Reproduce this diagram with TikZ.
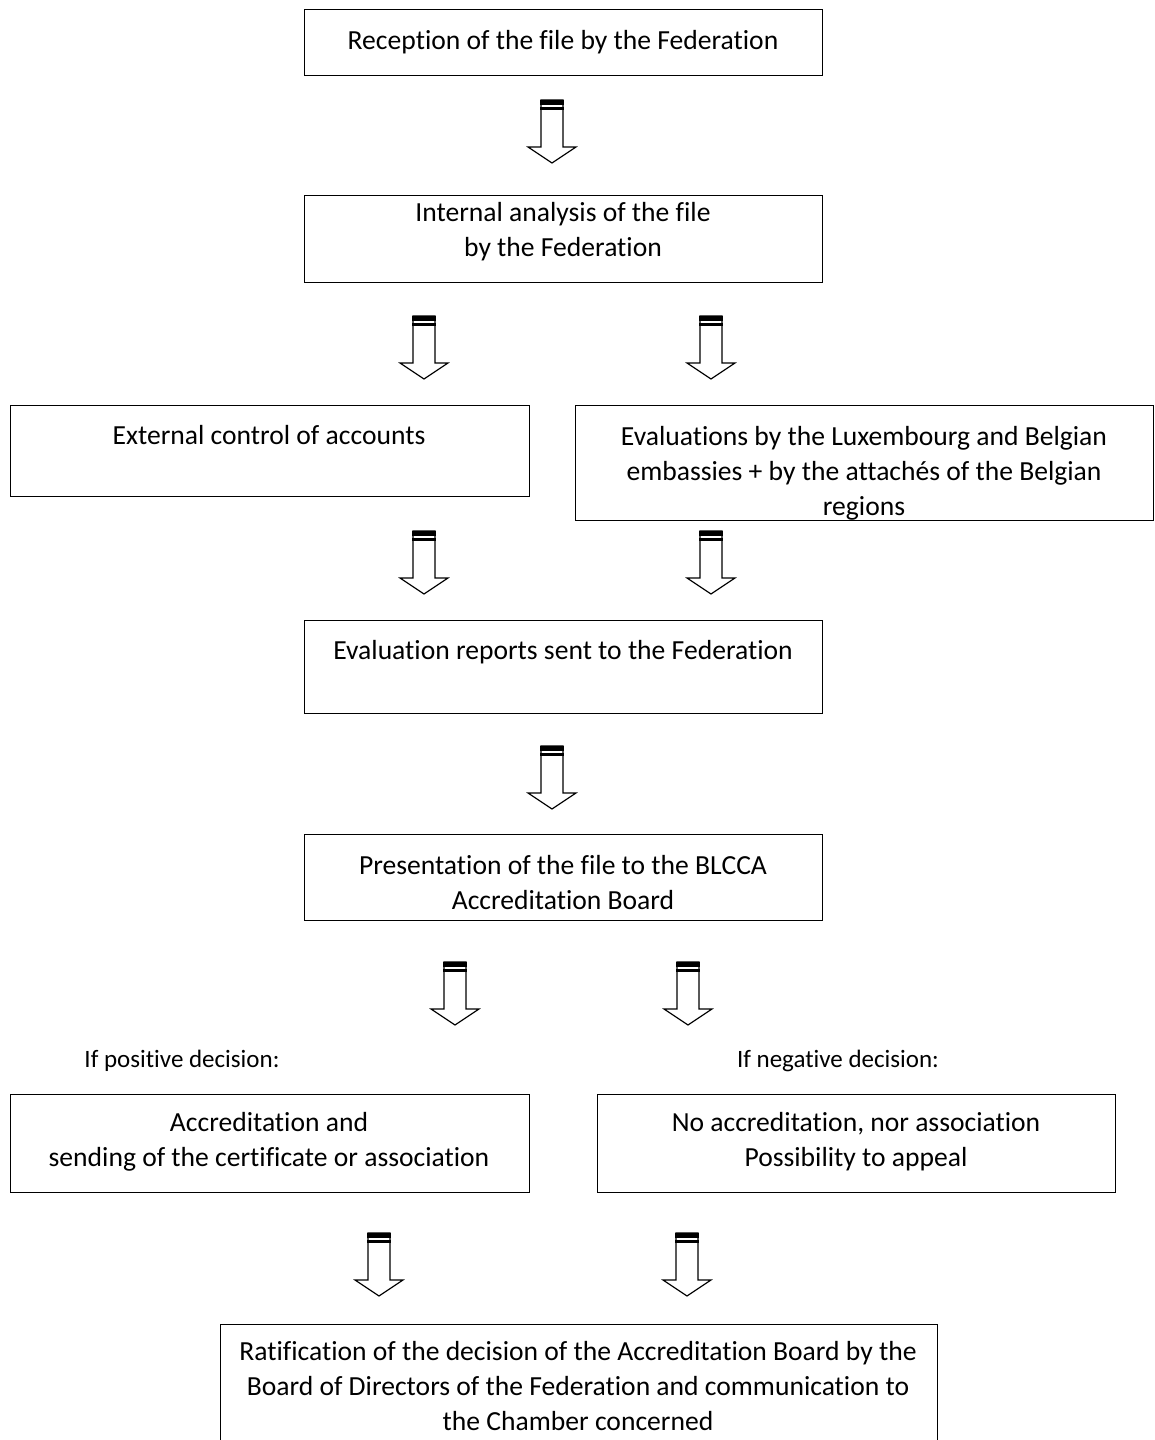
\documentclass[tikz,border=0pt]{standalone}
\usepackage{fontspec}
\setmainfont[Ligatures=NoCommon]{Carlito}
\usetikzlibrary{calc}
\tikzset{
  box/.style={draw, line width=1.4pt, rectangle, inner sep=0pt, anchor=north west},
  txt/.style={align=center, font=\fontsize{27.6}{35}\selectfont, inner sep=0pt},
  lbl/.style={align=center, font=\fontsize{25}{30}\selectfont, inner sep=0pt},
}
\newcommand\blockarrow[2]{%
  \begin{scope}[shift={(#1,#2)}]
    \draw[line width=1.2pt, fill=white, line join=miter]
      (-11,0) -- (-11,47) -- (-24,47) -- (0,63) -- (24,47) -- (11,47) -- (11,0) -- cycle;
    \fill (-11.6,0) rectangle (11.6,5);
    \fill (-11.6,7) rectangle (11.6,10);
  \end{scope}}
\begin{document}
\begin{tikzpicture}[x=1pt,y=-1pt]
\useasboundingbox (0,0) rectangle (1154,1440);
\clip (0,0) rectangle (1154,1440);
% boxes
\node[box, minimum width=518pt, minimum height=66pt] (b1) at (304,9) {};
\node[txt] (t1) at (563,42) {Reception of the file by the Federation};
\node[box, minimum width=518pt, minimum height=87pt] (b2) at (304,195) {};
\node[txt] (t2) at (563,232) {Internal analysis of the file\\by the Federation};
\node[box, minimum width=519pt, minimum height=91pt] (b3) at (10,405) {};
\node[txt] (t3) at (269,435) {External control of accounts};
\begin{scope}
  \clip (575,405) rectangle (1153,519);
  \node[txt] (t4) at (864,473) {Evaluations by the Luxembourg and Belgian\\embassies + by the attachés of the Belgian\\regions};
\end{scope}
\node[box, minimum width=578pt, minimum height=115pt] (b4) at (575,405) {};
\node[box, minimum width=518pt, minimum height=93pt] (b5) at (304,620) {};
\node[txt] (t5) at (563,652) {Evaluation reports sent to the Federation};
\node[box, minimum width=518pt, minimum height=86pt] (b6) at (304,834) {};
\node[txt] (t6) at (563,883) {Presentation of the file to the BLCCA\\Accreditation Board};
\node[lbl] (lp) at (182,1061) {If positive decision:};
\node[lbl] (ln) at (838,1061) {If negative decision:};
\node[box, minimum width=519pt, minimum height=98pt] (b8) at (10,1094) {};
\node[txt] (t8) at (269,1142) {Accreditation and\\sending of the certificate or association};
\node[box, minimum width=518pt, minimum height=98pt] (b9) at (597,1094) {};
\node[txt] (t9) at (856,1142) {No accreditation, nor association\\Possibility to appeal};
\node[box, minimum width=717pt, minimum height=130pt] (b10) at (220,1324) {};
\node[txt] (t10) at (578,1386) {Ratification of the decision of the Accreditation Board by the\\Board of Directors of the Federation and communication to\\the Chamber concerned};
% block arrows
\blockarrow{552}{100}
\blockarrow{424}{316}
\blockarrow{711}{316}
\blockarrow{424}{531}
\blockarrow{711}{531}
\blockarrow{552}{746}
\blockarrow{455}{962}
\blockarrow{688}{962}
\blockarrow{379}{1233}
\blockarrow{687}{1233}
\end{tikzpicture}
\end{document}
